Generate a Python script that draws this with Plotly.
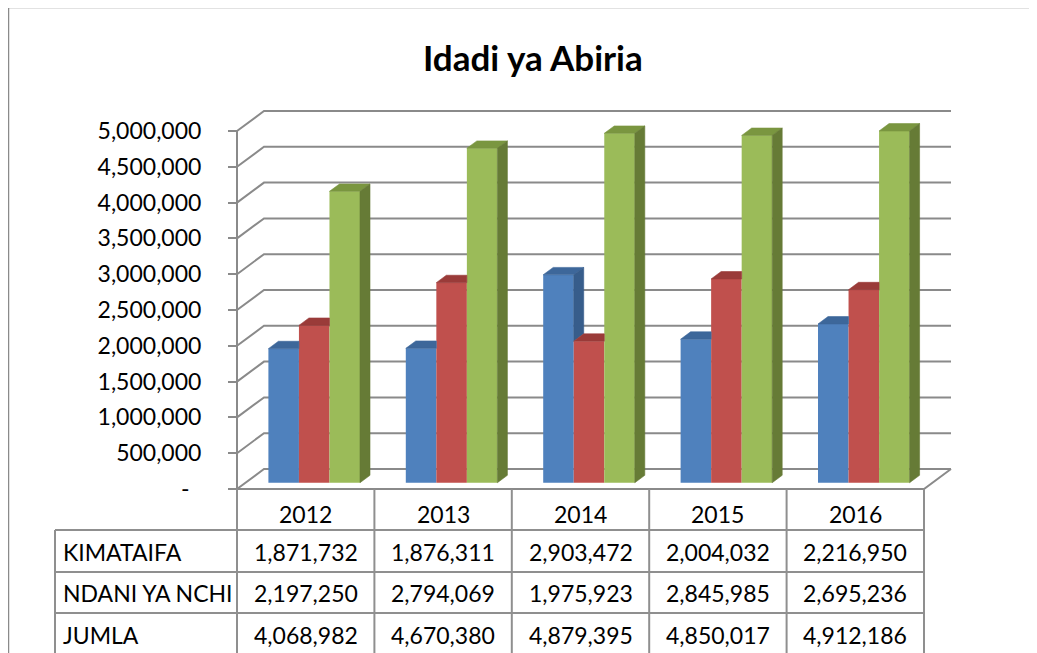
import plotly.graph_objects as go

# ---------------- data ----------------
years = ["2012", "2013", "2014", "2015", "2016"]
series_names = ["KIMATAIFA", "NDANI YA NCHI", "JUMLA"]
kimataifa = [1871732, 1876311, 2903472, 2004032, 2216950]
ndani_ya_nchi = [2197250, 2794069, 1975923, 2845985, 2695236]
jumla = [4068982, 4670380, 4879395, 4850017, 4912186]
y_ticks = [0, 500000, 1000000, 1500000, 2000000, 2500000, 3000000, 3500000, 4000000, 4500000, 5000000]
chart_title = "Idadi ya Abiria"

series_values = [kimataifa, ndani_ya_nchi, jumla]

# ---------------- styles / layout constants (screen pixels) ----------------
PAGE_MARGIN = 8                  # default body margin of the page
SCREEN_W, SCREEN_H = 1037, 653
W, H = SCREEN_W - PAGE_MARGIN, SCREEN_H - PAGE_MARGIN
FONT = "Lato"
X0_PX, XN_PX = 237, 924          # front plane left / right
Y0_PX, YTOP_PX = 489, 131        # front plane value 0 / top tick
DEPTH_PX = (27, 20)              # oblique depth of the floor / walls
BAR_DEPTH = 0.37                 # fraction of depth taken by a column
GROUP = 2 / 3                    # group width as a fraction of a category
front_colors = ["#4F81BD", "#C0504D", "#9BBB59"]
top_colors = ["#3D679A", "#9A3B39", "#7A9640"]
side_colors = ["#375D8B", "#8C3533", "#667B36"]
GRID = "#8a8a8a"
TABLE_LINE = "#8f8f8f"


def fx(xs):  # screen x -> figure x pixel
    return xs - PAGE_MARGIN


def fy(ys):
    return ys - PAGE_MARGIN


def px(xs):  # screen x -> paper
    return fx(xs) / W


def py(ys):
    return 1 - fy(ys) / H


ncat = len(years)
ux = (XN_PX - X0_PX) / ncat                  # px per category unit
uy = (Y0_PX - YTOP_PX) / y_ticks[-1]         # px per value unit
x_range = [-fx(X0_PX) / ux, (W - fx(X0_PX)) / ux]
y_range = [-(H - fy(Y0_PX)) / uy, fy(Y0_PX) / uy]
dxD, dyD = DEPTH_PX[0] / ux, DEPTH_PX[1] / uy
front_off = (1 - BAR_DEPTH) / 2
sdx, sdy = BAR_DEPTH * dxD, BAR_DEPTH * dyD
bw = GROUP / len(series_values)
base = front_off * dyD

fig = go.Figure()

# front faces (bars) and 3-D top / side faces
for s, vals in enumerate(series_values):
    centers = [i + 0.5 + (s - 1) * bw + front_off * dxD for i in range(ncat)]
    fig.add_trace(go.Bar(
        x=centers, y=vals, base=[base] * ncat, width=bw, name=series_names[s],
        marker=dict(color=front_colors[s], line=dict(width=0)), hoverinfo="skip"))
    tx, ty, sx, sy = [], [], [], []
    nxt = series_values[s + 1] if s + 1 < len(series_values) else None
    for i, v in enumerate(vals):
        L, R = centers[i] - bw / 2, centers[i] + bw / 2
        T = base + v
        NT = base + nxt[i] if nxt is not None else None
        # top face (clipped where the next, taller column hides it)
        if NT is not None and NT > T:
            tx += [L, R, R, L + sdx, L, None]
        else:
            tx += [L, R, R + sdx, L + sdx, L, None]
        ty += [T, T, T + sdy, T + sdy, T, None]
        # side face (only the part above the next column)
        if NT is None:
            bot = base
        elif NT < T:
            bot = NT
        else:
            bot = None
        if bot is not None:
            sx += [R, R, R + sdx, R + sdx, R, None]
            sy += [bot, T, T + sdy, bot + sdy, bot, None]
    fig.add_trace(go.Scatter(x=tx, y=ty, mode="lines", fill="toself",
                             fillcolor=top_colors[s], line=dict(width=0.6, color=top_colors[s]),
                             hoverinfo="skip", showlegend=False))
    if sx:
        fig.add_trace(go.Scatter(x=sx, y=sy, mode="lines", fill="toself",
                                 fillcolor=side_colors[s], line=dict(width=0.6, color=side_colors[s]),
                                 hoverinfo="skip", showlegend=False))

shapes = []
# walls: gridlines on back wall with left-wall diagonals
for v in y_ticks:
    shapes.append(dict(type="path", xref="x", yref="y", layer="below",
                       path=f"M 0,{v} L {dxD},{v + dyD} L {ncat + dxD},{v + dyD}",
                       line=dict(color=GRID, width=2)))
# front vertical axis line
shapes.append(dict(type="line", xref="x", yref="y", x0=0, x1=0, y0=0, y1=y_ticks[-1],
                   layer="below", line=dict(color=GRID, width=2)))
# floor front edge and right diagonal
shapes.append(dict(type="path", xref="x", yref="y", layer="below",
                   path=f"M 0,0 L {ncat},0 L {ncat + dxD},{dyD}",
                   line=dict(color=GRID, width=2)))

# data table grid
ROW_LINES_PX = [530, 572, 613]
LABEL_LEFT_PX = 55
for k in range(ncat + 1):
    xs = X0_PX + k * ux
    shapes.append(dict(type="line", xref="paper", yref="paper", x0=px(xs), x1=px(xs),
                       y0=py(Y0_PX), y1=py(SCREEN_H + 20), line=dict(color=TABLE_LINE, width=2)))
shapes.append(dict(type="line", xref="paper", yref="paper", x0=px(LABEL_LEFT_PX), x1=px(LABEL_LEFT_PX),
                   y0=py(ROW_LINES_PX[0]), y1=py(SCREEN_H + 20), line=dict(color=TABLE_LINE, width=2)))
for ys in ROW_LINES_PX:
    shapes.append(dict(type="line", xref="paper", yref="paper", x0=px(LABEL_LEFT_PX), x1=px(XN_PX),
                       y0=py(ys), y1=py(ys), line=dict(color=TABLE_LINE, width=2)))
# outer chart border
shapes.append(dict(type="rect", xref="paper", yref="paper", x0=px(8.5), x1=px(1030),
                   y0=py(SCREEN_H + 20), y1=py(7.5), line=dict(color="#8a8a8a", width=1.5), layer="below"))

annotations = [dict(text=chart_title, xref="paper", yref="paper", x=px(533), y=py(57),
                    showarrow=False, xanchor="center", yanchor="middle",
                    font=dict(family=FONT, size=35, color="black", weight="bold"))]
HEADER_Y_PX = 514
ROW_Y_PX = [552, 593, 635]
for i, yr in enumerate(years):
    annotations.append(dict(text=yr, xref="x", yref="paper", x=i + 0.5, y=py(HEADER_Y_PX),
                            showarrow=False, xanchor="center", yanchor="middle",
                            font=dict(family=FONT, size=23, color="black")))
for r, (name, vals) in enumerate(zip(series_names, series_values)):
    annotations.append(dict(text=name, xref="paper", yref="paper", x=px(61), y=py(ROW_Y_PX[r]),
                            showarrow=False, xanchor="left", yanchor="middle",
                            font=dict(family=FONT, size=23, color="black")))
    for i, v in enumerate(vals):
        annotations.append(dict(text=f"{v:,}", xref="x", yref="paper", x=i + 0.5, y=py(ROW_Y_PX[r]),
                                showarrow=False, xanchor="center", yanchor="middle",
                                font=dict(family=FONT, size=23, color="black")))

tick_text = ["-\u00a0\u00a0" if v == 0 else f"{v:,}" for v in y_ticks]

fig.update_layout(
    template="none",
    width=W, height=H, autosize=False,
    margin=dict(l=0, r=0, t=0, b=0),
    paper_bgcolor="white", plot_bgcolor="white",
    barmode="overlay", showlegend=False,
    xaxis=dict(range=x_range, domain=[0, 1], visible=False, fixedrange=True),
    yaxis=dict(range=y_range, domain=[0, 1], anchor="free", position=px(X0_PX),
               tickvals=y_ticks, ticktext=tick_text, ticks="outside", ticklen=9,
               tickwidth=2, tickcolor=GRID, showgrid=False, zeroline=False, showline=False,
               automargin=False, ticklabelstandoff=22, fixedrange=True,
               tickfont=dict(family=FONT, size=23, color="black")),
    shapes=shapes, annotations=annotations,
)

fig.write_html("out.html")
